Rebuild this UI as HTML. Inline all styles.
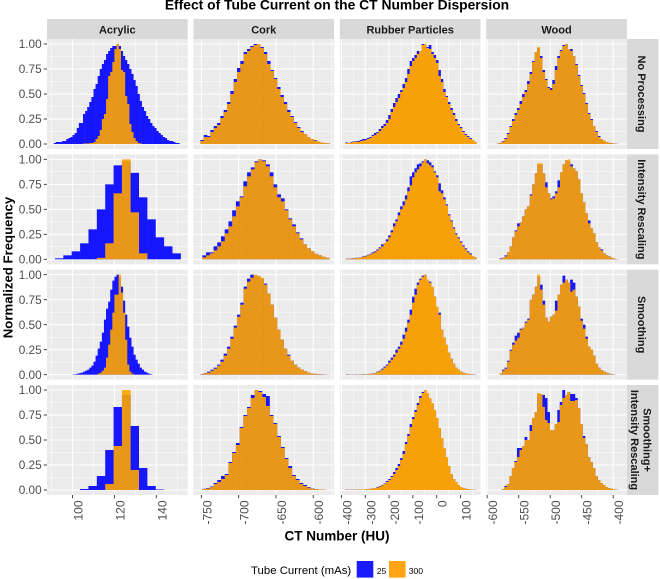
<!DOCTYPE html>
<html lang="en">
<head>
<meta charset="utf-8">
<title>Effect of Tube Current on the CT Number Dispersion</title>
<style>
html,body{margin:0;padding:0;background:#fff;width:660px;height:579px;overflow:hidden}
svg{display:block;font-family:"Liberation Sans",sans-serif;filter:blur(0.3px)}
</style>
</head>
<body>
<svg id="chart" xmlns="http://www.w3.org/2000/svg" width="660" height="579" viewBox="0 0 660 579">
<text x="337" y="9.5" text-anchor="middle" font-size="13.85" font-weight="700" fill="#000">Effect of Tube Current on the CT Number Dispersion</text>
<text transform="translate(12.5,267.5) rotate(-90)" text-anchor="middle" font-size="13.2" font-weight="700" fill="#000">Normalized Frequency</text>
<text x="337" y="540.5" text-anchor="middle" font-size="13.5" font-weight="700" fill="#000">CT Number (HU)</text>
<g>
<text x="251" y="574" font-size="11.4" fill="#000">Tube Current (mAs)</text>
<rect x="356.7" y="561" width="16.6" height="16.6" fill="#1a1aff"/>
<text x="376.7" y="574" font-size="8.6" fill="#000">25</text>
<rect x="389" y="561" width="16.6" height="16.6" fill="#ffa514"/>
<text x="408.7" y="574" font-size="8.6" fill="#000">300</text>
</g>
</svg>
<script>
// Facet labels
const materials = ['Acrylic', 'Cork', 'Rubber Particles', 'Wood'];
const processings = [['No Processing'], ['Intensity Rescaling'], ['Smoothing'], ['Smoothing+', 'Intensity Rescaling']];

// Axis domains (HU) and tick labels
const xDomains = [[87.8, 155], [-760.7, -572], [-407, 184], [-601.6, -378.3]];
const xTicks = [[100, 120, 140], [-750, -700, -650, -600], [-400, -300, -200, -100, 0, 100], [-600, -550, -500, -450, -400]];
const yTicks = [0, 0.25, 0.5, 0.75, 1];
const yTickLabels = ['0.00', '0.25', '0.50', '0.75', '1.00'];

// Histogram bin starts and bin widths in HU: [material][processing]
const binStarts = [
  [91, 91.6, 100, 103.6],
  [-751.3, -748.7, -751.3, -748.7],
  [-383.6, -383.6, -383.6, -383.6],
  [-584.7, -580.5, -580.5, -576.8]
];
const binWidths = [
  [1, 4, 1, 4],
  [4.46, 5, 4.46, 5],
  [10, 10, 10, 10],
  [4, 4, 4, 4]
];

// Normalized frequency, 25 mAs
const acrylicLow1 = [.01,.02,.02,.02,.03,.03,.05,.06,.07,.09,.11,.16,.21,.21,.30,.33,.37,.42,.47,.55,.60,.68,.75,.80,.84,.90,.93,.96,.98,.98,1,.98,.93,.88,.84,.80,.75,.70,.64,.58,.50,.43,.37,.33,.28,.25,.21,.18,.16,.13,.11,.09,.07,.06,.04,.03,.03,.02,.01,.01];
const acrylicLow2 = [.01,.04,.08,.16,.30,.50,.75,.94,.98,.865,.62,.40,.22,.13,.06];
const acrylicLow3 = [.003,.005,.01,.015,.02,.03,.04,.05,.07,.09,.13,.19,.26,.33,.42,.55,.66,.73,.85,.94,.98,1,.97,.88,.74,.60,.48,.37,.28,.20,.15,.11,.07,.05,.03,.02,.01,.005];
const acrylicLow4 = [.01,.04,.14,.40,.83,.95,.64,.22,.04,.005];
const corkLow1 = [.04,.09,.08,.14,.18,.21,.28,.34,.42,.53,.65,.76,.83,.92,.95,.98,1,.99,.97,.92,.83,.74,.66,.57,.49,.42,.34,.28,.22,.17,.13,.10,.07,.05,.04,.025,.015,.01,.006];
const corkLow2 = [.04,.07,.07,.13,.17,.23,.30,.38,.49,.58,.63,.78,.87,.92,.98,1,.99,.95,.87,.75,.65,.61,.50,.41,.35,.27,.21,.15,.11,.08,.055,.04,.025,.015];
const corkLow3 = [.006,.017,.03,.05,.07,.10,.15,.21,.28,.38,.49,.60,.72,.88,.96,1,.99,.98,.96,.91,.81,.70,.57,.45,.35,.26,.20,.14,.10,.07,.05,.035,.02,.012,.008,.005,.003,.002,.001];
const corkLow4 = [.012,.02,.035,.07,.10,.14,.16,.28,.38,.47,.63,.75,.83,.95,1,.99,.96,.94,.75,.67,.54,.43,.32,.24,.15,.11,.07,.05,.03,.015,.009,.005,.003];
const rubberLow1 = [.015,.01,.02,.025,.03,.03,.04,.05,.05,.06,.07,.09,.11,.12,.15,.18,.20,.24,.29,.35,.41,.46,.50,.54,.60,.66,.75,.83,.86,.89,.93,.91,1,.98,.97,.99,.92,.89,.84,.74,.65,.55,.48,.42,.36,.31,.25,.20,.17,.13,.10,.08,.06,.04,.02];
const rubberLow2 = [.006,.006,.01,.012,.015,.016,.02,.03,.035,.045,.055,.07,.08,.10,.12,.15,.16,.20,.24,.29,.36,.40,.47,.53,.58,.64,.72,.83,.87,.91,.95,.96,.98,1,.99,.97,.94,.88,.84,.76,.69,.62,.55,.45,.39,.32,.26,.22,.18,.14,.11,.08,.06,.03,.02];
const rubberLow3 = [.003,.003,.002,.002,.003,.002,.003,.004,.004,.007,.009,.013,.017,.03,.04,.06,.08,.10,.14,.17,.20,.25,.28,.33,.40,.47,.55,.65,.78,.86,.92,.96,.99,1,.94,.93,.86,.78,.67,.62,.45,.37,.29,.22,.16,.11,.07,.05,.03,.02,.012,.008,.005,.003,.002];
const rubberLow4 = [.003,.002,.002,.003,.003,.004,.004,.004,.006,.008,.012,.016,.02,.03,.04,.05,.065,.09,.11,.14,.18,.22,.26,.32,.39,.48,.56,.66,.73,.80,.87,.94,.98,1,.96,.91,.86,.79,.72,.62,.51,.41,.32,.24,.16,.11,.08,.05,.03,.02,.012,.008,.005,.003,.002];
const woodLow1 = [.006,.012,.03,.06,.11,.18,.25,.31,.36,.43,.50,.54,.63,.72,.83,.92,.96,.88,.74,.65,.57,.56,.64,.78,.88,.94,.99,1,.94,.95,.88,.80,.69,.59,.51,.41,.31,.25,.18,.13,.08,.05,.035,.02,.012,.008,.004,.002];
const woodLow2 = [.01,.016,.04,.07,.13,.22,.29,.36,.37,.43,.50,.53,.65,.75,.86,.95,.95,.86,.77,.66,.61,.63,.68,.79,.87,.95,.99,.98,.95,.91,.88,.80,.66,.57,.46,.39,.31,.26,.17,.12,.10,.06,.04,.03,.015,.008,.003];
const woodLow3 = [.01,.05,.07,.14,.25,.32,.39,.42,.46,.47,.53,.56,.75,.80,.88,.98,.90,.74,.57,.53,.58,.60,.74,.80,.90,.99,.95,.92,.95,.92,.78,.68,.56,.50,.38,.28,.25,.19,.11,.07,.045,.03,.02,.01,.005,.002];
const woodLow4 = [.01,.04,.06,.14,.22,.29,.42,.42,.44,.53,.50,.65,.72,.78,.96,.96,.95,.92,.78,.60,.60,.66,.80,.88,1,.95,.98,.96,.96,.92,.82,.66,.54,.46,.33,.28,.22,.14,.10,.07,.05,.03,.02,.012,.006,.003];

// Normalized frequency, 300 mAs
const acrylicHigh1 = [0,0,0,0,0,0,0,0,0,0,0,0,0,0,.005,.005,.005,.01,.01,.02,.05,.08,.14,.25,.30,.45,.68,.72,.82,.95,1,.95,.74,.72,.48,.40,.20,.12,.06,.03,.01,.005];
const acrylicHigh2 = [0,0,0,0,0,.015,.16,.66,1,.47,.06];
const acrylicHigh3 = [0,0,0,0,0,0,0,0,0,0,0,0,.01,.02,.04,.07,.17,.30,.45,.62,.80,.80,1,.82,.62,.35,.10,.03,.01];
const acrylicHigh4 = [0,0,0,.06,.44,1,.20];
const corkHigh1 = [.03,.07,.07,.12,.16,.19,.26,.32,.40,.50,.62,.72,.80,.90,.93,.97,.99,1,.96,.90,.80,.73,.65,.55,.47,.40,.32,.27,.21,.16,.12,.10,.07,.05,.035,.025,.015,.01,.005];
const corkHigh2 = [.02,.04,.06,.09,.13,.18,.26,.33,.43,.53,.62,.73,.83,.90,.97,1,.98,.93,.83,.72,.62,.58,.49,.40,.33,.26,.20,.15,.11,.08,.055,.04,.025,.015];
const corkHigh3 = [.005,.015,.02,.04,.06,.09,.13,.19,.26,.36,.47,.58,.70,.86,.93,.97,1,.99,.97,.90,.81,.70,.57,.45,.35,.26,.19,.14,.10,.07,.05,.035,.02,.012,.008,.005,.003,.002,.001];
const corkHigh4 = [.01,.015,.03,.06,.08,.11,.15,.27,.37,.45,.62,.74,.82,.92,1,.98,.93,.84,.74,.66,.53,.42,.31,.22,.14,.10,.06,.04,.025,.012,.008,.005,.003];
const rubberHigh1 = [.01,.01,.015,.02,.025,.02,.03,.035,.04,.05,.06,.08,.09,.11,.13,.16,.18,.21,.25,.32,.37,.42,.46,.52,.56,.62,.70,.78,.83,.86,.90,.93,.99,1,.96,.95,.90,.86,.81,.68,.62,.52,.47,.40,.34,.29,.23,.19,.16,.12,.09,.07,.05,.04,.02];
const rubberHigh2 = [.004,.005,.008,.01,.012,.015,.018,.025,.03,.04,.05,.06,.07,.09,.11,.13,.16,.18,.22,.27,.33,.38,.44,.50,.54,.60,.68,.74,.82,.87,.90,.93,.97,1,.96,.94,.92,.87,.82,.68,.66,.60,.54,.44,.38,.31,.25,.21,.17,.13,.10,.07,.05,.03,.02];
const rubberHigh3 = [.002,.002,.002,.002,.002,.002,.003,.003,.004,.006,.008,.012,.015,.025,.035,.05,.07,.09,.12,.15,.18,.22,.26,.30,.36,.43,.52,.60,.72,.80,.90,.95,.98,1,.95,.92,.88,.78,.68,.60,.45,.37,.30,.22,.16,.11,.07,.05,.03,.02,.012,.008,.005,.003,.002];
const rubberHigh4 = [.002,.002,.002,.002,.003,.003,.004,.004,.006,.008,.012,.015,.02,.025,.035,.045,.06,.08,.10,.13,.16,.20,.24,.30,.36,.46,.54,.63,.71,.78,.85,.92,.97,1,.97,.92,.87,.80,.72,.62,.52,.42,.33,.24,.16,.11,.08,.05,.03,.02,.012,.008,.005,.003,.002];
const woodHigh1 = [.005,.01,.025,.05,.10,.17,.23,.29,.34,.40,.47,.52,.60,.70,.82,.92,.97,.86,.72,.64,.56,.54,.60,.74,.86,.93,.98,1,.95,.93,.88,.79,.68,.58,.50,.40,.30,.24,.18,.12,.07,.05,.035,.02,.012,.008,.004,.002];
const woodHigh2 = [.005,.015,.03,.07,.13,.22,.28,.33,.37,.43,.50,.53,.64,.75,.86,.96,.96,.86,.72,.66,.60,.61,.66,.72,.87,.95,.99,1,.93,.91,.88,.80,.66,.57,.46,.36,.31,.26,.17,.12,.09,.06,.04,.03,.015,.008,.003];
const woodHigh3 = [.01,.04,.06,.13,.24,.30,.34,.37,.45,.47,.52,.55,.75,.80,.88,1,.85,.70,.57,.53,.58,.60,.64,.80,.90,.92,.95,.92,.83,.85,.78,.68,.54,.46,.36,.28,.25,.19,.11,.07,.045,.03,.02,.01,.005,.002];
const woodHigh4 = [.01,.03,.06,.14,.22,.28,.33,.40,.44,.50,.50,.59,.72,.78,.97,.96,.83,.70,.67,.60,.60,.66,.68,.85,.92,.95,.98,.89,.89,.90,.82,.66,.52,.46,.33,.28,.22,.14,.10,.07,.05,.03,.02,.012,.006,.003];

const lowSeries = [
  [acrylicLow1, acrylicLow2, acrylicLow3, acrylicLow4],
  [corkLow1, corkLow2, corkLow3, corkLow4],
  [rubberLow1, rubberLow2, rubberLow3, rubberLow4],
  [woodLow1, woodLow2, woodLow3, woodLow4]
];
const highSeries = [
  [acrylicHigh1, acrylicHigh2, acrylicHigh3, acrylicHigh4],
  [corkHigh1, corkHigh2, corkHigh3, corkHigh4],
  [rubberHigh1, rubberHigh2, rubberHigh3, rubberHigh4],
  [woodHigh1, woodHigh2, woodHigh3, woodHigh4]
];

const NS = 'http://www.w3.org/2000/svg';
const svg = document.getElementById('chart');
const panelW = 140.7, panelH = 110, colStep = 146.4, rowStep = 115.33, left0 = 47, top0 = 39;

function panelLeft(c) { return left0 + c * colStep; }
function panelTop(r) { return top0 + r * rowStep; }
function xScale(c, v) {
  const d = xDomains[c];
  return panelLeft(c) + (v - d[0]) / (d[1] - d[0]) * panelW;
}
function yScale(r, v) {
  return panelTop(r) + panelH - 5 - v * 100;
}
function make(tag, attrs, parent) {
  const el = document.createElementNS(NS, tag);
  for (const k in attrs) el.setAttribute(k, attrs[k]);
  parent.appendChild(el);
  return el;
}
function minorTicks(ticks, domain) {
  const step = ticks[1] - ticks[0], out = [];
  for (let v = ticks[0] - step / 2; v <= domain[1]; v += step) {
    if (v >= domain[0] && ticks.indexOf(v) < 0) out.push(v);
  }
  return out;
}

materials.forEach(function (name, c) {
  const g = make('g', { 'font-size': 11, 'font-weight': 700, fill: '#1a1a1a' }, svg);
  
  
  make('rect', { x: panelLeft(c), y: 19, width: panelW, height: 20, fill: '#d9d9d9' }, g);
  const t = make('text', { x: panelLeft(c) + panelW / 2, y: 33.5, 'text-anchor': 'middle' }, g);
  t.textContent = name;
});

processings.forEach(function (lines, r) {
  const g = make('g', { 'font-size': 11, 'font-weight': 700, fill: '#1a1a1a' }, svg);
  
  
  const sx = panelLeft(3) + panelW;
  make('rect', { x: sx, y: panelTop(r), width: 31.5, height: panelH, fill: '#d9d9d9' }, g);
  lines.forEach(function (line, i) {
    const cx = sx + (lines.length === 1 ? 11 : 16.6 - i * 12.7);
    const t = make('text', { transform: 'translate(' + cx + ',' + (panelTop(r) + panelH / 2) + ') rotate(90)', 'text-anchor': 'middle' }, g);
    t.textContent = line;
  });
});

materials.forEach(function (name, c) {
  processings.forEach(function (p, r) {
    const panel = make('g', {}, svg);
    
    
    const L = panelLeft(c), T = panelTop(r), R = L + panelW, B = T + panelH;
    make('rect', { x: L, y: T, width: panelW, height: panelH, fill: '#ebebeb' }, panel);
    yTicks.forEach(function (v, i) {
      make('line', { x1: L, x2: R, y1: yScale(r, v), y2: yScale(r, v), stroke: '#fff', 'stroke-width': 1 }, panel);
      if (i < yTicks.length - 1) {
        const m = yScale(r, (v + yTicks[i + 1]) / 2);
        make('line', { x1: L, x2: R, y1: m, y2: m, stroke: '#fff', 'stroke-width': 0.5 }, panel);
      }
    });
    xTicks[c].forEach(function (v) {
      make('line', { x1: xScale(c, v), x2: xScale(c, v), y1: T, y2: B, stroke: '#fff', 'stroke-width': 1 }, panel);
    });
    minorTicks(xTicks[c], xDomains[c]).forEach(function (v) {
      make('line', { x1: xScale(c, v), x2: xScale(c, v), y1: T, y2: B, stroke: '#fff', 'stroke-width': 0.5 }, panel);
    });
    const start = binStarts[c][r], width = binWidths[c][r];
    [[lowSeries[c][r], '#0000ff', 0.9], [highSeries[c][r], '#ffa500', c === 2 ? 0.97 : 0.9]].forEach(function (s) {
      const layer = make('g', { opacity: s[2] }, panel);
      s[0].forEach(function (v, i) {
        if (v <= 0) return;
        const x0 = xScale(c, start + i * width), x1 = xScale(c, start + (i + 1) * width);
        const bar = make('rect', { x: x0, y: yScale(r, v), width: x1 - x0 + 0.3, height: yScale(r, 0) - yScale(r, v), fill: s[1] }, layer);
        
        
      });
    });
  });
});

processings.forEach(function (p, r) {
  yTicks.forEach(function (v, i) {
    const y = yScale(r, v);
    make('line', { x1: 43.7, x2: 47, y1: y, y2: y, stroke: '#333', 'stroke-width': 0.9 }, svg);
    const t = make('text', { x: 41.7, y: y + 4.2, 'text-anchor': 'end', 'font-size': 11.8, fill: '#4d4d4d' }, svg);
    
    
    t.textContent = yTickLabels[i];
  });
});

materials.forEach(function (name, c) {
  xTicks[c].forEach(function (v) {
    const x = xScale(c, v), base = panelTop(3) + panelH;
    make('line', { x1: x, x2: x, y1: base, y2: base + 3.3, stroke: '#333', 'stroke-width': 0.9 }, svg);
    const t = make('text', { transform: 'translate(' + (x + 10) + ',' + (base + 5.5) + ') rotate(-90)', 'text-anchor': 'end', 'font-size': 12, fill: '#4d4d4d' }, svg);
    
    
    t.textContent = v;
  });
});
</script>
</body>
</html>
